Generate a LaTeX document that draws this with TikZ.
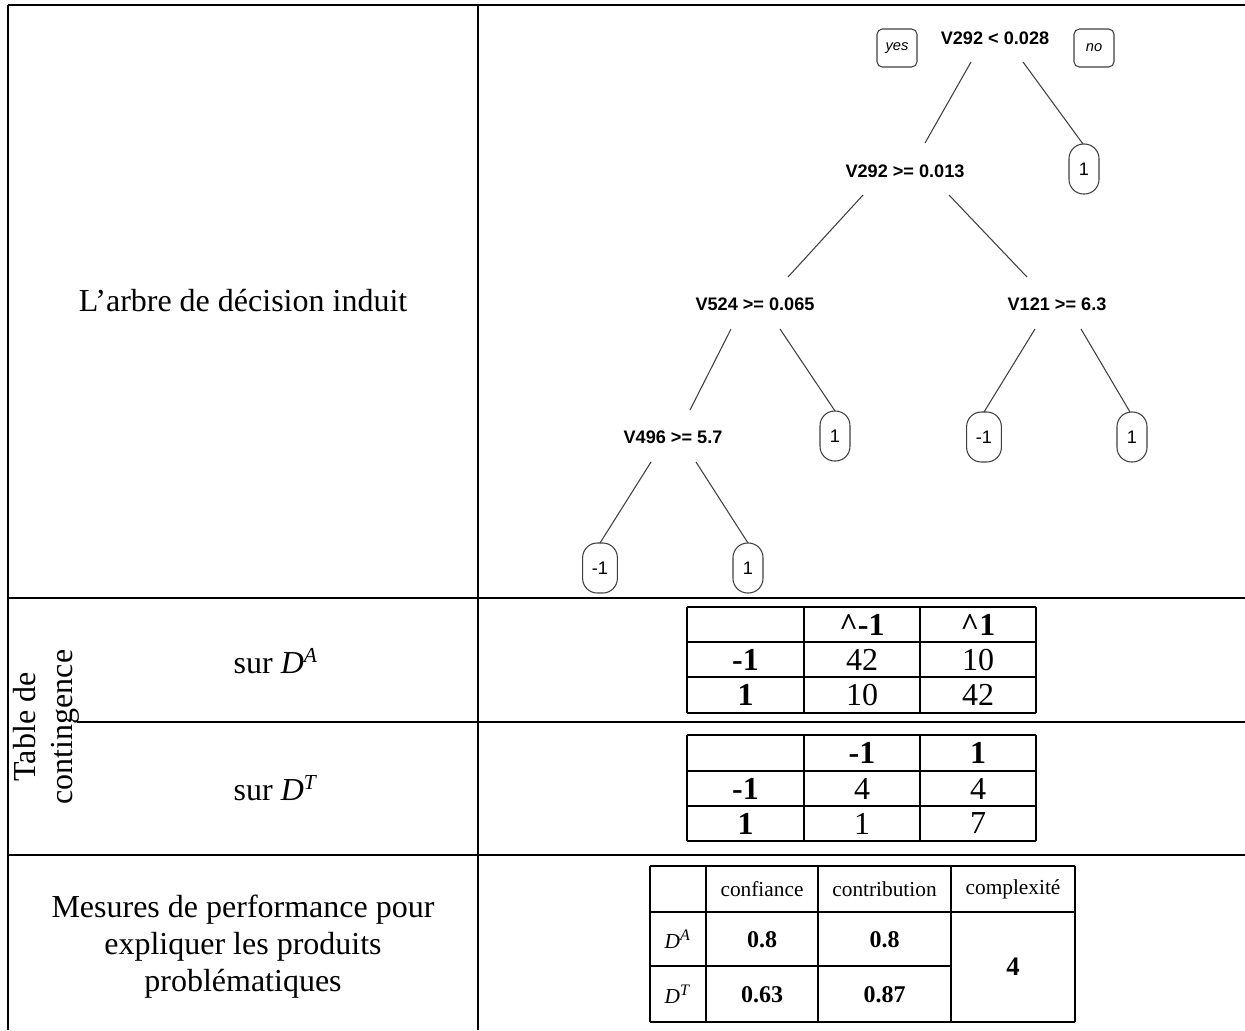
\documentclass[tikz,border=0pt]{standalone}
\usepackage{fontspec}
\setmainfont{Liberation Serif}
\newfontfamily\treefont{Liberation Sans}
\usetikzlibrary{positioning,calc}

\begin{document}
\begin{tikzpicture}[x=0.375pt,y=-0.375pt,
    every node/.style={font=\fontsize{12pt}{13.9pt}\selectfont,
                       text=black,align=center,inner sep=0pt},
    frame/.style={draw=black,line width=0.8pt},
    grid/.style={draw=black,line width=0.75pt},
    cellb/.style={font=\fontsize{12pt}{13.9pt}\selectfont\bfseries},
    small/.style={font=\fontsize{8pt}{9.6pt}\selectfont},
    smallb/.style={font=\fontsize{9pt}{10pt}\selectfont\bfseries},
    split/.style={font=\treefont\fontsize{6.8pt}{8pt}\selectfont\bfseries,
                  text=black},
    leaf/.style={draw=black!75,line width=0.4pt,rounded corners=5.5pt,
                 minimum width=11.25pt,minimum height=18.75pt,inner xsep=3.5pt,
                 font=\treefont\fontsize{6.8pt}{8pt}\selectfont},
    tag/.style={draw=black!75,line width=0.4pt,rounded corners=2pt,
                minimum width=15pt,minimum height=14.25pt,
                font=\treefont\itshape\fontsize{5.5pt}{6.5pt}\selectfont},
    branch/.style={draw=black!75,line width=0.4pt},
  ]
  \useasboundingbox (0,0) rectangle (1245,1030);
  % outer table
  \draw[frame] (8,5) -- (498,5);
  \draw[line width=0.4pt] (498,5) -- (1150,5);
  \draw[frame] (1150,5) -- (1245,5);
  \draw[frame] (8,5) -- (8,1030);
  \draw[frame] (478,5) -- (478,1030);
  \draw[frame] (8,598) -- (1245,598);
  \draw[frame] (77,722) -- (1245,722);
  \draw[frame] (8,855) -- (1245,855);
  % left column
  \node (arbre) at (243,301) {L’arbre de décision induit};
  \node[rotate=90] (contin) at (46,727) {Table de\\contingence};
  \node (surA) at (276,661) {sur \textit{D}\textsuperscript{\textit{A}}};
  \node (surT) at (276,788) {sur \textit{D}\textsuperscript{\textit{T}}};
  \node (mesures) at (243,947)
        {Mesures de performance pour\\expliquer les produits\\problématiques};
  % decision tree
  \node[split] (root) at (995,38) {V292 < 0.028};
  \node[tag] (yes) at (897,48) {\raisebox{-1pt}{yes}};
  \node[tag] (no) at (1094,48) {no};
  \node[split] (n2) at (905,171) {V292 >= 0.013};
  \node[leaf] (l1) at (1084,169) {1};
  \node[split] (n3) at (755,304) {V524 >= 0.065};
  \node[split] (n4) at (1057,304) {V121 >= 6.3};
  \node[split] (n5) at (673,437) {V496 >= 5.7};
  \node[leaf] (l2) at (835,436) {1};
  \node[leaf] (l3) at (984,437) {-1};
  \node[leaf] (l4) at (1132,437) {1};
  \node[leaf] (l5) at (600,568) {-1};
  \node[leaf] (l6) at (748,568) {1};
  \foreach \a/\ax/\ay/\b/\bx/\by in {root/-24/24/n2/20/-28, root/28/24/l1/-1/-25,
      n2/-42/24/n3/33/-27, n2/44/24/n4/-30/-27,
      n3/-24/25/n5/17/-27, n3/25/25/l2/0/-25,
      n4/-22/25/l3/0/-25, n4/24/25/l4/-2/-25,
      n5/-22/25/l5/0/-25, n5/23/25/l6/0/-25}
    \draw[branch] ($(\a)+(\ax,\ay)$) -- ($(\b)+(\bx,\by)$);
  % contingency table on D^A
  \foreach \x in {687,804,920,1036} \draw[grid] (\x,607) -- (\x,713);
  \foreach \y in {607,642,677,713} \draw[grid] (687,\y) -- (1036,\y);
  \node[cellb] (ta-h1) at (862,624.5) {\textasciicircum-1};
  \node[cellb] (ta-h2) at (978,624.5) {\textasciicircum1};
  \node[cellb] (ta-r1) at (745.5,659.5) {-1};
  \node (ta-11) at (862,659.5) {42};
  \node (ta-12) at (978,659.5) {10};
  \node[cellb] (ta-r2) at (745.5,695) {1};
  \node (ta-21) at (862,695) {10};
  \node (ta-22) at (978,695) {42};
  % contingency table on D^T
  \foreach \x in {687,804,920,1036} \draw[grid] (\x,735) -- (\x,841);
  \foreach \y in {735,771,806,841} \draw[grid] (687,\y) -- (1036,\y);
  \node[cellb] (tt-h1) at (862,753) {-1};
  \node[cellb] (tt-h2) at (978,753) {1};
  \node[cellb] (tt-r1) at (745.5,788.5) {-1};
  \node (tt-11) at (862,788.5) {4};
  \node (tt-12) at (978,788.5) {4};
  \node[cellb] (tt-r2) at (745.5,823.5) {1};
  \node (tt-21) at (862,823.5) {1};
  \node (tt-22) at (978,823.5) {7};
  % performance measures
  \foreach \x in {650,706,818,951,1075} \draw[grid] (\x,866) -- (\x,1022);
  \foreach \y in {866,912,1022} \draw[grid] (650,\y) -- (1075,\y);
  \draw[grid] (650,966) -- (951,966);
  \node[small] (m-h1) at (762,889) {confiance};
  \node[small] (m-h2) at (884.5,889) {contribution};
  \node[small] (m-h3) at (1013,889) {complexité};
  \node[small] (m-r1) at (678,939) {\textit{D}\textsuperscript{\textit{A}}};
  \node[smallb] (m-11) at (762,940) {0.8};
  \node[smallb] (m-12) at (884.5,940) {0.8};
  \node[small] (m-r2) at (678,994) {\textit{D}\textsuperscript{\textit{T}}};
  \node[smallb] (m-21) at (762,995) {0.63};
  \node[smallb] (m-22) at (884.5,995) {0.87};
  \node[smallb,font=\fontsize{10pt}{11pt}\selectfont\bfseries] (m-3) at (1013,967) {4};
\end{tikzpicture}
\end{document}
